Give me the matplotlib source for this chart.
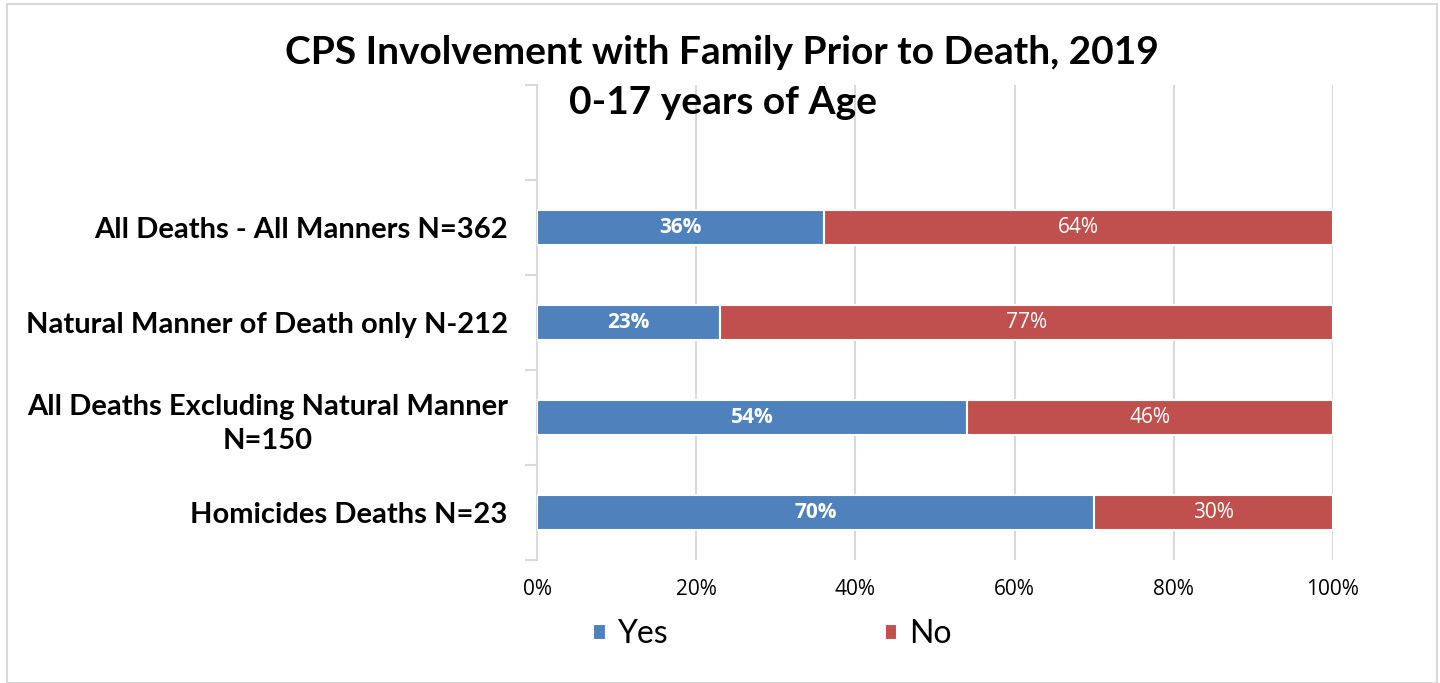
#CPS involvement chart - horizontal 100% stacked bars

#IMPORT STATEMENTS
import numpy as np
import matplotlib.pyplot as plt
from matplotlib.patches import Rectangle

#DATA (bottom to top)
categories = ["Homicides Deaths N=23",
              "All Deaths Excluding Natural Manner\nN=150",
              "Natural Manner of Death only N-212",
              "All Deaths - All Manners N=362"]
yes_pct = [70, 54, 23, 36]
no_pct = [30, 46, 77, 64]
x_ticks = [0, 20, 40, 60, 80, 100]
series_names = ["Yes", "No"]

#STYLE
plt.rcParams['font.family'] = ['Lato', 'DejaVu Sans']
blue = "#4F81BD"
red = "#C0504D"
grid_color = "#d9d9d9"

fig = plt.figure(figsize=(14.4, 6.83), dpi=100)
ax = fig.add_axes([537/1440, 123/683, 796/1440, 475/683])

#outer chart border
fig.patches.append(Rectangle((7/1440, 0), 1430/1440, 679/683, transform=fig.transFigure,
                             fill=False, edgecolor=grid_color, linewidth=1.5))

y = np.arange(len(categories))
bar_h = 0.36
b1 = ax.barh(y, yes_pct, height=bar_h, color=blue, edgecolor="white", linewidth=1.5,
             label=series_names[0], zorder=3)
b2 = ax.barh(y, no_pct, left=yes_pct, height=bar_h, color=red, edgecolor="white",
             linewidth=1.5, label=series_names[1], zorder=3)

#data labels
for i in range(len(categories)):
    ax.text(yes_pct[i] / 2, y[i], str(yes_pct[i]) + "%", ha="center", va="center",
            color="white", fontsize=15, fontweight="bold", family="Open Sans", zorder=4)
    ax.text(yes_pct[i] + no_pct[i] / 2, y[i], str(no_pct[i]) + "%", ha="center", va="center",
            color="white", fontsize=15, family="Open Sans", zorder=4)

ax.set_xlim(0, 100)
ax.set_ylim(-0.5, 4.5)
ax.set_xticks(x_ticks)
ax.set_xticklabels([str(t) + "%" for t in x_ticks], fontsize=15, family="Open Sans")
ax.tick_params(axis="x", length=0, pad=14)
ax.xaxis.grid(True, color=grid_color, linewidth=1.5, zorder=0)

#category labels at bar centers, tick marks between categories
ax.set_yticks(np.arange(-0.5, 5.0, 1.0))
ax.set_yticklabels([])
ax.tick_params(axis="y", which="major", length=9, color=grid_color, width=1.5)
ax.set_yticks(y, minor=True)
ax.set_yticklabels(categories, minor=True, fontsize=21, fontweight="bold", linespacing=1.4,
                   multialignment="center")
ax.tick_params(axis="y", which="minor", length=0, pad=21)

for side in ["top", "right", "bottom"]:
    ax.spines[side].set_visible(False)
ax.spines["left"].set_color(grid_color)
ax.spines["left"].set_linewidth(1.5)

#title
fig.text(722/1440, 1 - 52/683, "CPS Involvement with Family Prior to Death, 2019",
         ha="center", va="center", fontsize=28, fontweight="bold")
fig.text(723/1440, 1 - 103/683, "0-17 years of Age", ha="center", va="center",
         fontsize=28, fontweight="bold")

#legend
fig.legend(handles=[b1, b2], loc="center", bbox_to_anchor=(772/1440, 1 - 634/683),
           ncol=2, frameon=False, fontsize=23, handlelength=0.4, handleheight=0.4,
           columnspacing=6.8, handletextpad=0.35)

plt.savefig("out.png", dpi=100)
